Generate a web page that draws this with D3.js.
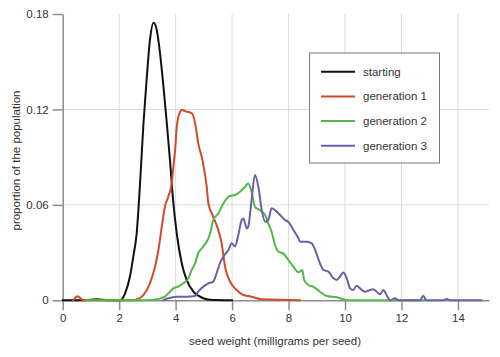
<!DOCTYPE html>
<html>
<head>
<meta charset="utf-8">
<script src="https://cdn.jsdelivr.net/npm/d3@7"></script>
<style>
  html, body { margin: 0; padding: 0; background: #fff; }
  svg { display: block; font-family: "Liberation Sans", Arial, sans-serif; }
</style>
</head>
<body>
<svg id="chart" width="500" height="357"></svg>
<script>
// ---- data (x = seed weight mg, y = proportion) ----
const seriesNames = ["starting", "generation 1", "generation 2", "generation 3"];
const xTicks = [0, 2, 4, 6, 8, 10, 12, 14];
const yTicks = [0, 0.06, 0.12, 0.18];
const yTickLabels = ["0", "0.06", "0.12", "0.18"];

const starting = [
  [0, 0], [0.8, 0], [1.2, 0.0006], [1.6, 0.0001], [2.03, 0], [2.21, 0.0044], [2.38, 0.0148],
  [2.5, 0.0274], [2.62, 0.042], [2.74, 0.0736], [2.86, 0.111], [2.98, 0.1406],
  [3.09, 0.1636], [3.22, 0.1745], [3.33, 0.170], [3.45, 0.155], [3.56, 0.136],
  [3.68, 0.113], [3.8, 0.088], [3.92, 0.061], [4.04, 0.042], [4.22, 0.023],
  [4.39, 0.0128], [4.63, 0.0054], [4.98, 0.0013], [5.22, 0.0003], [6.0, 0]
];
const generation1 = [
  [0.37, 0], [0.53, 0.0025], [0.73, 0], [2.4, 0], [2.62, 0.0006], [2.86, 0.0033],
  [3.09, 0.0107], [3.27, 0.0211], [3.39, 0.0316], [3.51, 0.0463], [3.62, 0.0588],
  [3.74, 0.0651], [3.86, 0.0735], [3.92, 0.084], [3.98, 0.094], [4.04, 0.1092],
  [4.16, 0.1186], [4.22, 0.1196], [4.39, 0.1186], [4.57, 0.1176], [4.69, 0.1114],
  [4.8, 0.0988], [4.95, 0.0882], [5.1, 0.0715], [5.16, 0.061], [5.33, 0.0526],
  [5.51, 0.0442], [5.63, 0.0358], [5.75, 0.0211], [5.93, 0.0117], [6.16, 0.0065],
  [6.4, 0.0033], [6.57, 0.0027], [6.75, 0.0019], [7.05, 0.0006], [8.41, 0]
];
const generation2 = [
  [0.8, 0], [3.0, 0], [3.33, 0.0006], [3.62, 0.0023], [3.8, 0.0054], [3.92, 0.0075],
  [4.09, 0.0086], [4.27, 0.0107], [4.45, 0.0138], [4.57, 0.0191], [4.69, 0.0233],
  [4.8, 0.0296], [4.98, 0.0338], [5.16, 0.039], [5.22, 0.042], [5.33, 0.0504],
  [5.51, 0.0546], [5.69, 0.0609], [5.81, 0.0641], [5.93, 0.0656], [6.1, 0.0662],
  [6.28, 0.0683], [6.46, 0.0714], [6.57, 0.0735], [6.69, 0.0683], [6.81, 0.0588],
  [6.99, 0.0567], [7.17, 0.0536], [7.28, 0.0484], [7.4, 0.0431], [7.52, 0.0348],
  [7.64, 0.0306], [7.81, 0.0295], [7.99, 0.0254], [8.17, 0.0211], [8.35, 0.0176],
  [8.49, 0.019], [8.55, 0.0128], [8.7, 0.0096], [8.88, 0.0085], [9.11, 0.0054],
  [9.35, 0.0027], [9.71, 0.0019], [9.94, 0.0006], [10.12, 0], [12.8, 0]
];
const generation3 = [
  [3.56, 0], [3.74, 0.0013], [4.04, 0.0023], [4.39, 0.0023], [4.69, 0.0027],
  [4.8, 0.0054], [4.98, 0.0086], [5.16, 0.0107], [5.33, 0.0117], [5.45, 0.017],
  [5.57, 0.0233], [5.69, 0.0275], [5.87, 0.0316], [5.99, 0.0358], [6.1, 0.0338],
  [6.22, 0.041], [6.34, 0.0505], [6.4, 0.0515], [6.52, 0.0452], [6.57, 0.0462],
  [6.69, 0.063], [6.81, 0.0788], [6.93, 0.0714], [7.05, 0.0567], [7.17, 0.0494],
  [7.28, 0.0505], [7.4, 0.0578], [7.52, 0.0567], [7.7, 0.0536], [7.87, 0.0505],
  [7.99, 0.0494], [8.17, 0.0443], [8.35, 0.039], [8.41, 0.0368], [8.64, 0.0368],
  [8.82, 0.0358], [8.94, 0.0317], [9.11, 0.0233], [9.23, 0.0191], [9.41, 0.018],
  [9.59, 0.0138], [9.7, 0.0128], [9.82, 0.0149], [9.94, 0.0174], [10.06, 0.0138],
  [10.18, 0.0075], [10.29, 0.0065], [10.41, 0.0091], [10.53, 0.0075], [10.71, 0.0054],
  [10.89, 0.0065], [11.0, 0.0069], [11.12, 0.0054], [11.24, 0.0038], [11.36, 0.0065],
  [11.48, 0.003], [11.6, 0], [11.77, 0.0013], [11.89, 0], [12.66, 0], [12.77, 0.0029],
  [12.88, 0], [13.48, 0], [13.6, 0.0008], [13.72, 0], [14.84, 0]
];
const seriesData = [starting, generation1, generation2, generation3];
const seriesColors = ["#111111", "#d04b28", "#52b848", "#6b60a8"];

// ---- layout ----
const svg = d3.select("#chart");
const x = d3.scaleLinear().domain([0, 15.1]).range([62.7, 489]);
const y = d3.scaleLinear().domain([0, 0.18]).range([300.3, 14]);
const axisColor = "#8c8c8c";
const gridColor = "#dcdcdc";
const textColor = "#333";

// grid
svg.append("g").selectAll("line.vg").data(xTicks.filter(d => d > 0)).enter()
  .append("line").attr("x1", d => x(d)).attr("x2", d => x(d))
  .attr("y1", y(0.18)).attr("y2", y(0))
  .attr("stroke", gridColor).attr("stroke-width", 1);
svg.append("g").selectAll("line.hg").data(yTicks.filter(d => d > 0 && d < 0.18)).enter()
  .append("line").attr("x1", x(0)).attr("x2", x(15.1))
  .attr("y1", d => y(d)).attr("y2", d => y(d))
  .attr("stroke", gridColor).attr("stroke-width", 1);

// axes
const xAxis = d3.axisBottom(x).tickValues(xTicks).tickSize(10).tickSizeOuter(0).tickPadding(4);
const yAxis = d3.axisLeft(y).tickValues(yTicks).tickSize(10).tickSizeOuter(0).tickPadding(4)
  .tickFormat((d, i) => yTickLabels[i]);

const gx = svg.append("g").attr("transform", `translate(0,${y(0)})`).call(xAxis);
const gy = svg.append("g").attr("transform", `translate(${x(0)},0)`).call(yAxis);
[gx, gy].forEach(g => {
  g.select(".domain").attr("stroke", axisColor).attr("stroke-width", 1.5);
  g.selectAll(".tick line").attr("stroke", axisColor).attr("stroke-width", 1.5);
  g.selectAll(".tick text").attr("fill", textColor).style("font-size", "11.5px")
    .style("font-family", "'Liberation Sans', Arial, sans-serif");
});

// lines
const line = d3.line().x(d => x(d[0])).y(d => y(d[1])).curve(d3.curveMonotoneX);
svg.append("g").selectAll("path.series").data(seriesData).enter()
  .append("path")
  .attr("d", d => line(d))
  .attr("fill", "none")
  .attr("stroke", (d, i) => seriesColors[i])
  .attr("stroke-width", 2)
  .attr("stroke-linejoin", "round")
  .attr("stroke-linecap", "round");

// axis titles
svg.append("text").attr("x", 275).attr("y", 345).attr("text-anchor", "middle")
  .attr("fill", textColor).style("font-size", "11.5px")
  .text("seed weight (milligrams per seed)");
svg.append("text").attr("transform", "translate(19.5,160.5) rotate(-90)")
  .attr("text-anchor", "middle").attr("fill", textColor).style("font-size", "11.5px")
  .text("proportion of the population");

// legend
const lg = svg.append("g");
lg.append("rect").attr("x", 309.5).attr("y", 53).attr("width", 130).attr("height", 110)
  .attr("fill", "#fff").attr("stroke", "#7a7a7a").attr("stroke-width", 1);
const rows = lg.selectAll("g.row").data(seriesNames).enter().append("g")
  .attr("transform", (d, i) => `translate(0,${71.7 + i * 24.7})`);
rows.append("line").attr("x1", 321).attr("x2", 355).attr("y1", 0).attr("y2", 0)
  .attr("stroke", (d, i) => seriesColors[i]).attr("stroke-width", 2);
rows.append("text").attr("x", 363).attr("y", 4).attr("fill", textColor)
  .style("font-size", "11.5px").text(d => d);
</script>
</body>
</html>
